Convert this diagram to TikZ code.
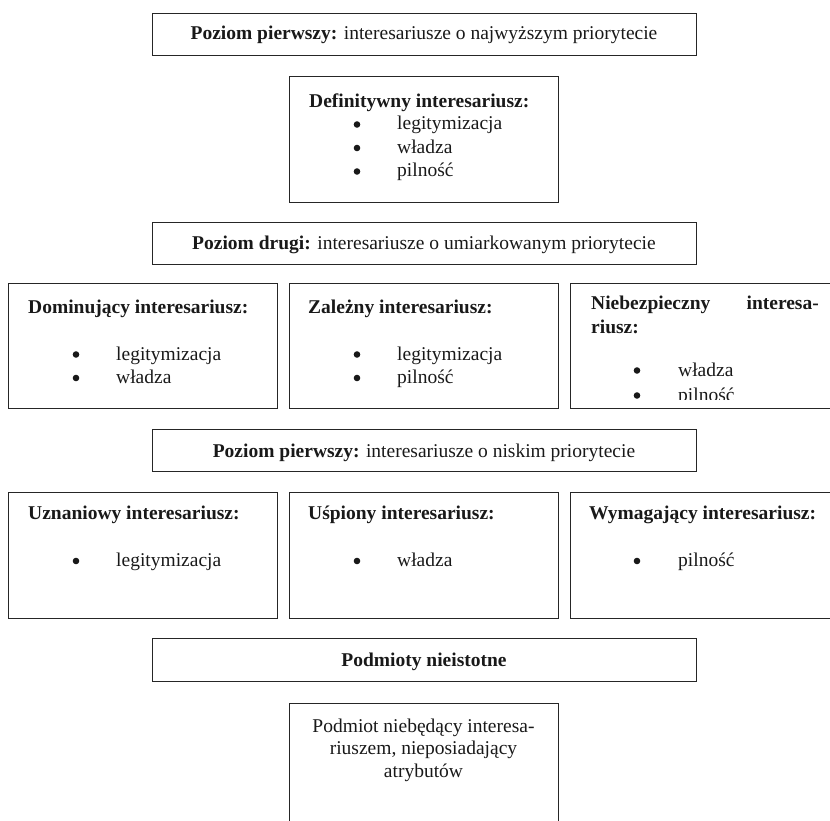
\documentclass[tikz,border=0pt]{standalone}
\usepackage{fontspec}
\setmainfont{Liberation Serif}
\begin{document}
\begin{tikzpicture}[x=1pt,y=-1pt,
  box/.style={draw=black!85, line width=1.4pt, rectangle, inner sep=0pt, anchor=north west},
  wide/.style={box, minimum width=544pt, minimum height=42pt},
  cell/.style={box, minimum width=269pt, minimum height=125pt},
  txt/.style={inner sep=0pt, text=black!90, font=\fontsize{19.5}{23.5}\selectfont},
  tc/.style={txt, anchor=base},
  tl/.style={txt, anchor=base west},
  tr/.style={txt, anchor=base east},
  dot/.style={circle, fill=black!90, inner sep=0pt, minimum size=6.6pt, yshift=5.5pt}]
\useasboundingbox (0,0) rectangle (830,821);

% --- Level 1 ---
\node[wide] (b1) at (152,13) {};
\node[tc] (t1) at (424,40) {\textbf{Poziom pierwszy:} interesariusze o najwyższym priorytecie};

\node[box, minimum width=269pt, minimum height=126pt] (def) at (289,76) {};
\node[tl] (defT) at (309,108) {\textbf{Definitywny interesariusz:}};
\node[dot] (defD1) at (357,130) {};
\node[tl] (defL1) at (397,130) {legitymizacja};
\node[dot] (defD2) at (357,153.5) {};
\node[tl] (defL2) at (397,153.5) {władza};
\node[dot] (defD3) at (357,177) {};
\node[tl] (defL3) at (397,177) {pilność};

% --- Level 2 ---
\node[wide] (b2) at (152,222) {};
\node[tc] (t2) at (424,249) {\textbf{Poziom drugi:} interesariusze o umiarkowanym priorytecie};

\node[cell] (dom) at (8,283) {};
\node[tl] (domT) at (28,313) {\textbf{Dominujący interesariusz:}};
\node[dot] (domD1) at (76,360) {};
\node[tl] (domL1) at (116,360) {legitymizacja};
\node[dot] (domD2) at (76,383.5) {};
\node[tl] (domL2) at (116,383.5) {władza};

\node[cell] (zal) at (289,283) {};
\node[tl] (zalT) at (308,313) {\textbf{Zależny interesariusz:}};
\node[dot] (zalD1) at (357,360) {};
\node[tl] (zalL1) at (397,360) {legitymizacja};
\node[dot] (zalD2) at (357,383.5) {};
\node[tl] (zalL2) at (397,383.5) {pilność};

\node[cell] (nie) at (570,283) {};
\node[tl] (nieT1) at (591,309) {\textbf{Niebezpieczny}};
\node[tr] (nieT2) at (819,309) {\textbf{interesa-}};
\node[tl] (nieT3) at (591,333) {\textbf{riusz:}};
\node[dot] (nieD1) at (637,376) {};
\node[tl] (nieL1) at (678,376) {władza};
\begin{scope}
  \clip (570,283) rectangle (850,399.5);
  \node[dot] (nieD2) at (637,401) {};
  \node[tl] (nieL2) at (678,401) {pilność};
\end{scope}

% --- Level 3 ---
\node[wide] (b3) at (152,429) {};
\node[tc] (t3) at (424,457) {\textbf{Poziom pierwszy:} interesariusze o niskim priorytecie};

\node[cell, minimum height=126pt] (uzn) at (8,492) {};
\node[tl] (uznT) at (28,519) {\textbf{Uznaniowy interesariusz:}};
\node[dot] (uznD) at (76,566.5) {};
\node[tl] (uznL) at (116,566.5) {legitymizacja};

\node[cell, minimum height=126pt] (usp) at (289,492) {};
\node[tl] (uspT) at (308,519) {\textbf{Uśpiony interesariusz:}};
\node[dot] (uspD) at (357,566.5) {};
\node[tl] (uspL) at (397,566.5) {władza};

\node[cell, minimum height=126pt] (wym) at (570,492) {};
\node[tl] (wymT) at (589,519) {\textbf{Wymagający interesariusz:}};
\node[dot] (wymD) at (637,566.5) {};
\node[tl] (wymL) at (678,566.5) {pilność};

% --- Non-stakeholders ---
\node[wide, minimum height=43pt] (b4) at (152,638) {};
\node[tc] (t4) at (424,666) {\textbf{Podmioty nieistotne}};

\node[box, minimum width=269pt, minimum height=150pt] (pod) at (289,703) {};
\node[tc] (p1) at (423.5,732) {Podmiot niebędący interesa-};
\node[tc] (p2) at (423.5,754.5) {riuszem, nieposiadający};
\node[tc] (p3) at (423.5,777) {atrybutów};
\end{tikzpicture}
\end{document}
